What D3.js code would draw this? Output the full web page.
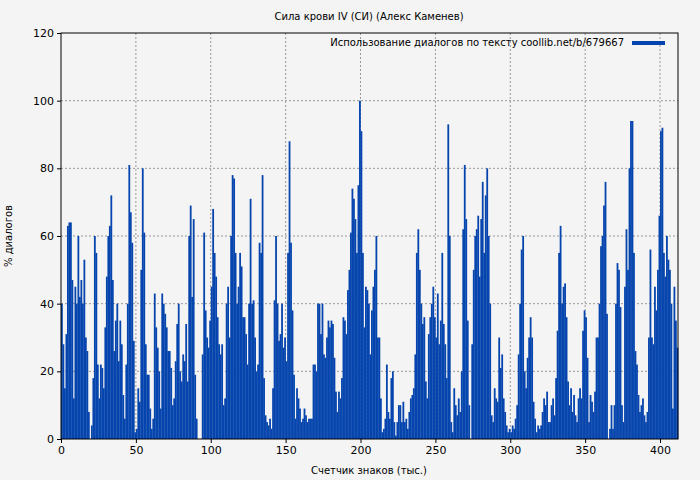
<!DOCTYPE html>
<html>
<head>
<meta charset="utf-8">
<script src="https://cdn.jsdelivr.net/npm/d3@7"></script>
<style>
  body { margin: 0; background: #f4f4f4; }
  text { font-family: "DejaVu Sans", sans-serif; fill: #000; }
</style>
</head>
<body>
<svg id="chart" width="700" height="480"></svg>
<script>
// ── 데이터 ─────────────────────────────────────────────
const title = "Сила крови IV (СИ) (Алекс Каменев)";
const legendLabel = "Использование диалогов по тексту coollib.net/b/679667";
const xTicks = [0, 50, 100, 150, 200, 250, 300, 350, 400];
const yTicks = [0, 20, 40, 60, 80, 100, 120];
// % диалогов на каждую тысячу знаков
const values = [
  40,28,15,31,63,64,64,47,12,45,40,60,42,47,40,53,30,26,8,0,
  4,18,60,55,22,12,22,21,15,33,48,60,63,72,47,26,35,40,23,35,
  28,13,6,22,40,81,67,58,29,2,3,15,11,50,80,61,28,19,19,9,
  3,6,43,33,27,20,9,43,40,37,33,26,26,21,10,12,23,34,40,20,
  17,25,23,34,17,60,69,42,65,19,6,0,0,0,25,61,38,30,27,35,
  45,68,55,48,36,28,25,28,10,12,40,45,30,60,78,77,55,40,45,55,
  51,36,36,31,22,40,71,40,41,30,20,22,58,55,78,18,7,5,4,6,
  3,15,41,60,40,29,31,40,27,30,23,55,88,58,38,19,6,15,12,9,
  5,6,9,7,5,6,6,6,22,22,20,40,40,31,40,25,24,30,35,33,
  35,34,24,14,8,14,12,18,36,35,31,44,50,61,74,71,65,55,75,100,
  91,55,33,45,44,40,25,38,45,50,60,30,30,12,2,3,6,22,8,6,
  18,20,5,1,5,10,10,5,11,5,6,3,8,12,13,15,25,55,62,50,
  40,34,36,17,12,31,36,40,45,36,30,43,28,35,55,34,28,18,93,60,
  5,2,15,10,7,12,8,20,62,81,65,35,10,0,28,50,60,62,66,48,
  65,76,55,72,80,60,40,7,5,15,12,11,30,21,25,12,8,4,2,3,
  2,4,3,6,10,25,40,56,60,20,15,24,30,36,30,11,6,2,4,3,
  4,8,12,10,14,5,5,10,12,7,18,32,55,63,40,45,46,36,17,10,
  15,8,13,7,5,12,15,12,32,38,36,24,5,13,11,8,14,30,30,40,
  57,60,69,76,37,0,3,10,3,10,40,52,50,39,10,5,45,62,50,80,
  94,94,55,26,22,13,8,10,12,7,5,8,30,56,30,28,45,38,50,66,
  91,92,55,48,60,53,50,40,9,45,35,27
];

// ── 레이아웃 ───────────────────────────────────────────
const W = 700, H = 480;
const M = { left: 61, right: 22, top: 33, bottom: 41 };
const BAR_COLOR = "#0645ad";

const svg = d3.select("#chart");
svg.append("rect").attr("width", W).attr("height", H).attr("fill", "#f4f4f4");

const x = d3.scaleLinear().domain([0, values.length]).range([M.left, W - M.right]);
const y = d3.scaleLinear().domain([0, 120]).range([H - M.bottom, M.top]);

// 그리드
const grid = svg.append("g").attr("stroke", "#999").attr("stroke-dasharray", "2,2").attr("stroke-width", 1);
xTicks.filter(d => d > 0).forEach(d => {
  grid.append("line").attr("x1", x(d)).attr("x2", x(d)).attr("y1", y(0)).attr("y2", y(120));
});
yTicks.filter(d => d > 0 && d < 120).forEach(d => {
  grid.append("line").attr("x1", x(0)).attr("x2", x(values.length)).attr("y1", y(d)).attr("y2", y(d));
});

// 막대
const bw = x(1) - x(0);
svg.append("g").selectAll("rect").data(values).join("rect")
  .attr("x", (d, i) => x(i))
  .attr("width", bw + 0.3)
  .attr("y", d => y(d))
  .attr("height", d => y(0) - y(d))
  .attr("fill", BAR_COLOR);

// 테두리
svg.append("rect")
  .attr("x", x(0)).attr("y", y(120))
  .attr("width", x(values.length) - x(0)).attr("height", y(0) - y(120))
  .attr("fill", "none").attr("stroke", "#000").attr("stroke-width", 1);

// 축
const xAxis = svg.append("g").attr("transform", `translate(0,${y(0)})`)
  .call(d3.axisBottom(x).tickValues(xTicks).tickSize(4).tickSizeOuter(0));
const yAxis = svg.append("g").attr("transform", `translate(${x(0)},0)`)
  .call(d3.axisLeft(y).tickValues(yTicks).tickSize(4).tickSizeOuter(0));
[xAxis, yAxis].forEach(a => {
  a.select(".domain").remove();
  a.selectAll("text").style("font-size", "11px").style("font-family", "DejaVu Sans");
});

// 제목, 라벨
svg.append("text").attr("x", 369).attr("y", 20).attr("text-anchor", "middle")
  .style("font-size", "10px").text(title);
svg.append("text").attr("x", 369).attr("y", 474).attr("text-anchor", "middle")
  .style("font-size", "10px").text("Счетчик знаков (тыс.)");
svg.append("text").attr("transform", "translate(12,236) rotate(-90)").attr("text-anchor", "middle")
  .style("font-size", "10px").text("% диалогов");

// 범례
svg.append("text").attr("x", 624).attr("y", 46).attr("text-anchor", "end")
  .style("font-size", "10px").text(legendLabel);
svg.append("rect").attr("x", 632).attr("y", 41).attr("width", 33).attr("height", 4).attr("fill", BAR_COLOR);
</script>
</body>
</html>
